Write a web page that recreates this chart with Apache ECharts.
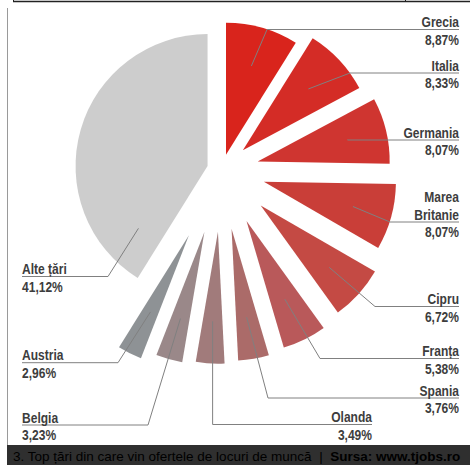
<!DOCTYPE html>
<html><head><meta charset="utf-8">
<script src="https://cdn.jsdelivr.net/npm/echarts@6/dist/echarts.min.js"></script>
<style>html,body{margin:0;padding:0;background:#fff}#c{width:470px;height:465px}</style>
</head><body><div id="c"></div>
<script>
// ---- data ----
const countries = ['Grecia','Italia','Germania','Marea Britanie','Cipru','Franța','Spania','Olanda','Belgia','Austria','Alte țări'];
const labelNames = ['Grecia','Italia','Germania','Marea\nBritanie','Cipru','Franța','Spania','Olanda','Belgia','Austria','Alte țări'];
const shares = [8.87, 8.33, 8.07, 8.07, 6.72, 5.38, 3.76, 3.49, 3.23, 2.96, 41.12];
const caption = '3. Top țări din care vin ofertele de locuri de muncă';
const source = 'Sursa: www.tjobs.ro';

// ---- styles / layout ----
const colors = ['#d9241c','#d42c26','#cf3530','#c93e38','#c44a44','#b9595a','#ab6b69','#a17b7b','#9a8889','#8e9295','#cdcdcd'];
const explode = [15.9, 29.1, 37.1, 43.9, 52.7, 56.6, 59.4, 61.7, 64.3, 72.9, 14.6];
const CX = 221.6, CY = 170.1, R = 132, LH = 17.5;
const spec = [
  {side:'right', lineY:29.5, elbowX:267, edgeX:459, da:0, f:0.7},
  {side:'right', lineY:73,   elbowX:350, edgeX:459, da:0, f:0.68},
  {side:'right', lineY:140,  elbowX:null, edgeX:459, da:0, f:0.7},
  {side:'right', lineY:222,  elbowX:390, edgeX:459, da:0, f:0.7},
  {side:'right', lineY:306.5,elbowX:375, edgeX:459, da:0, f:0.7},
  {side:'right', lineY:358.5,elbowX:320, edgeX:459, da:0, f:0.66},
  {side:'right', lineY:398,  elbowX:268, edgeX:459, da:0, f:0.68},
  {side:'right', lineY:424.5,elbowX:null, edgeX:372, da:0, f:0.68},
  {side:'left',  lineY:425,  elbowX:148, edgeX:22,  da:0, f:0.68},
  {side:'left',  lineY:362.7,elbowX:118, edgeX:22,  da:0, f:0.65},
  {side:'left',  lineY:276.5,elbowX:108, edgeX:22,  da:-58, f:0.705}
];
const LABEL_FONT = 'bold 14px "Liberation Sans", Arial, sans-serif';
const FOOT_FONT = '"Liberation Sans", Arial, sans-serif';

const total = shares.reduce((a, b) => a + b, 0);
let acc = 0;
const mids = shares.map(v => { const m = (acc + v / 2) / total * 360; acc += v; return m; });
const fmt = v => v.toFixed(2).replace('.', ',') + '%';

function labelGraphics(i) {
  const s = spec[i];
  const th = mids[i] * Math.PI / 180;
  const ax = CX + explode[i] * Math.sin(th), ay = CY - explode[i] * Math.cos(th);
  const ta = (mids[i] + s.da) * Math.PI / 180;
  const sx = ax + s.f * R * Math.sin(ta), sy = ay - s.f * R * Math.cos(ta);
  const ex = s.elbowX == null ? sx : s.elbowX;
  const nLines = labelNames[i].split('\n').length + 1;
  return [
    {type: 'polyline', z: 10, silent: true,
     shape: {points: [[sx, sy], [ex, s.lineY], [s.edgeX, s.lineY]]},
     style: {stroke: '#808080', lineWidth: 1, fill: null}},
    {type: 'text', z: 11, silent: true,
     x: s.edgeX, y: s.lineY - (nLines - 1) * LH + 1.5, scaleX: 0.86,
     style: {text: labelNames[i] + '\n' + fmt(shares[i]), font: LABEL_FONT, lineHeight: LH,
             fill: '#3d3d3d', align: s.side, verticalAlign: 'top'}}
  ];
}

const series = countries.map((name, i) => ({
  type: 'pie',
  silent: true,
  animation: false,
  center: [CX, CY],
  radius: [0, R],
  startAngle: 90,
  clockwise: true,
  avoidLabelOverlap: false,
  selectedMode: 'multiple',
  selectedOffset: explode[i],
  emphasis: {disabled: true},
  label: {show: false},
  labelLine: {show: false},
  data: countries.map((n, j) => j === i ? {
    name: n, value: shares[j], selected: true,
    itemStyle: {color: colors[j], borderWidth: 0},
    select: {itemStyle: {color: colors[j], borderWidth: 0}}
  } : {
    name: n, value: shares[j],
    itemStyle: {color: 'rgba(0,0,0,0)', borderWidth: 0},
    select: {itemStyle: {color: 'rgba(0,0,0,0)', borderWidth: 0}}
  })
}));

const graphics = [
  {type: 'line', shape: {x1: 13, y1: 1.5, x2: 470, y2: 1.5}, style: {stroke: '#222', lineWidth: 1.5}},
  {type: 'line', shape: {x1: 13.5, y1: 0, x2: 13.5, y2: 2}, style: {stroke: '#222', lineWidth: 1}},
  {type: 'line', shape: {x1: 405.5, y1: 0, x2: 405.5, y2: 2}, style: {stroke: '#222', lineWidth: 1}},
  {type: 'line', shape: {x1: 7.5, y1: 8, x2: 7.5, y2: 446}, style: {stroke: '#9a9a9a', lineWidth: 1}},
  {type: 'rect', shape: {x: 7, y: 445, width: 463, height: 20}, style: {fill: '#2f2f2f'}},
  {type: 'text', x: 13, y: 456, style: {
    text: '{a|' + caption + '}{s|  |  }{b|' + source + '}',
    verticalAlign: 'middle',
    rich: {
      a: {fontFamily: FOOT_FONT, fontSize: 13.5, color: '#dcdcdc'},
      s: {fontFamily: FOOT_FONT, fontSize: 13.5, color: '#dcdcdc'},
      b: {fontFamily: FOOT_FONT, fontSize: 13.5, fontWeight: 'bold', color: '#ffffff'}
    }
  }}
];
countries.forEach((n, i) => { graphics.push(...labelGraphics(i)); });

const chart = echarts.init(document.getElementById('c'), null, {renderer: 'svg'});
chart.setOption({
  animation: false,
  backgroundColor: '#ffffff',
  series: series,
  graphic: graphics
});
</script></body></html>
